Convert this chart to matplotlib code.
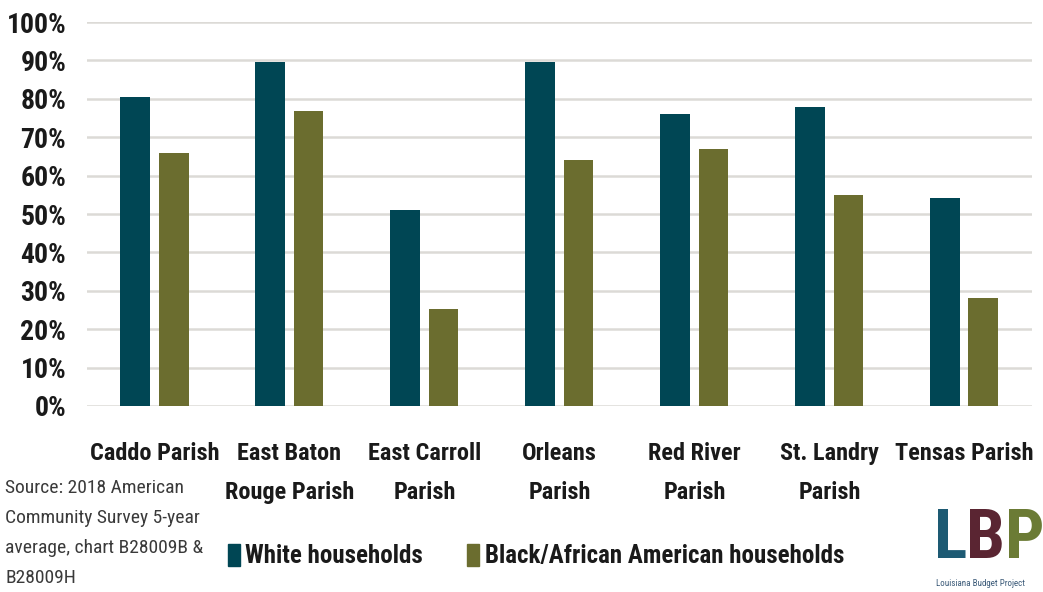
import matplotlib
matplotlib.use("Agg")
import matplotlib.pyplot as plt
from matplotlib import font_manager
import numpy as np

# ===== Data =====
parishes = ["Caddo Parish", "East Baton\nRouge Parish", "East Carroll\nParish",
            "Orleans\nParish", "Red River\nParish", "St. Landry\nParish", "Tensas Parish"]
white_pct = [80.4, 89.6, 51.0, 89.6, 76.1, 77.8, 54.2]
black_pct = [66.0, 76.9, 25.3, 64.0, 67.0, 54.9, 28.0]
yticks = np.arange(0, 101, 10)

WHITE_COLOR = "#004654"
BLACK_COLOR = "#6b6d2f"
GRID_COLOR = "#dcdad6"

# pick a narrow font if available
installed = {f.name for f in font_manager.fontManager.ttflist}
font = "DejaVu Sans"
for cand in ["Liberation Sans Narrow", "DejaVu Sans Condensed", "Roboto Condensed", "Open Sans Condensed"]:
    if cand in installed:
        font = cand
        break
plt.rcParams["font.family"] = [font, "DejaVu Sans"]

fig = plt.figure(figsize=(10.43, 5.92), dpi=100)
ax = fig.add_axes([0.0834, 0.3142, 0.906, 0.6486])

x = np.arange(len(parishes))
w = 0.222
off = 0.141
ax.bar(x - off, white_pct, width=w, color=WHITE_COLOR, zorder=3)
ax.bar(x + off, black_pct, width=w, color=BLACK_COLOR, zorder=3)

ax.set_xlim(-0.5, len(parishes) - 0.5)
ax.set_ylim(0, 100)
ax.set_yticks(yticks)
ax.set_yticklabels([f"{v}%" for v in yticks], fontsize=20, fontweight="bold", color="#1a1a1a")
ax.yaxis.grid(True, color=GRID_COLOR, linewidth=1.8, zorder=0)
ax.set_axisbelow(True)
ax.tick_params(axis="y", length=0, pad=15)
ax.tick_params(axis="x", length=0, pad=26)
ax.set_xticks(x)
ax.set_xticklabels(parishes, fontsize=17.5, fontweight="bold", color="#1a1a1a", linespacing=1.9)
for s in ax.spines.values():
    s.set_visible(False)

# source note
fig.text(0.005, 1 - 479 / 592,
         "Source: 2018 American\nCommunity Survey 5-year\naverage, chart B28009B &\nB28009H",
         fontsize=14, color="#3a3a3a", va="top", ha="left", linespacing=1.85)

# legend
fig.patches.append(plt.Rectangle((228 / 1043, 1 - 566 / 592), 12 / 1043, 22 / 592,
                                 transform=fig.transFigure, color=WHITE_COLOR))
fig.text(245 / 1043, 1 - 556 / 592, "White households", fontsize=18, fontweight="bold",
         color="#1a1a1a", va="center", ha="left")
fig.patches.append(plt.Rectangle((467 / 1043, 1 - 566 / 592), 12 / 1043, 22 / 592,
                                 transform=fig.transFigure, color=BLACK_COLOR))
fig.text(485 / 1043, 1 - 556 / 592, "Black/African American households", fontsize=18,
         fontweight="bold", color="#1a1a1a", va="center", ha="left")

# logo approximation
fig.text(934 / 1043, 1 - 540 / 592, "L", fontsize=50, fontweight="bold", color="#1d5a73",
         va="center", ha="left")
fig.text(966 / 1043, 1 - 540 / 592, "B", fontsize=50, fontweight="bold", color="#5a2532",
         va="center", ha="left")
fig.text(1005 / 1043, 1 - 540 / 592, "P", fontsize=50, fontweight="bold", color="#6b7b35",
         va="center", ha="left")
fig.text(936 / 1043, 1 - 584 / 592, "Louisiana Budget Project", fontsize=6.5, color="#3b5a78",
         va="center", ha="left")

fig.savefig("out.png", dpi=100)
